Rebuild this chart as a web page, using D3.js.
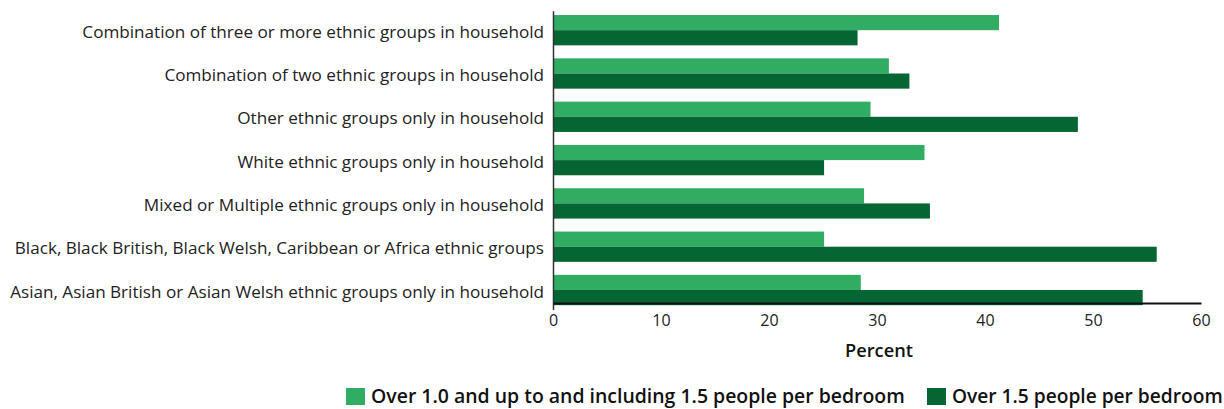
<!DOCTYPE html>
<html><head><meta charset="utf-8">
<script src="https://cdn.jsdelivr.net/npm/d3@7"></script>
<style>body{margin:0;background:#fff}svg{display:block}</style>
</head><body>
<svg id="c" width="1224" height="409"></svg>
<script>
const categories = [
  "Combination of three or more ethnic groups in household",
  "Combination of two ethnic groups in household",
  "Other ethnic groups only in household",
  "White ethnic groups only in household",
  "Mixed or Multiple ethnic groups only in household",
  "Black, Black British, Black Welsh, Caribbean or Africa ethnic groups",
  "Asian, Asian British or Asian Welsh ethnic groups only in household"
];
const seriesNames = ["Over 1.0 and up to and including 1.5 people per bedroom", "Over 1.5 people per bedroom"];
const over10to15 = [41.3, 31.1, 29.4, 34.4, 28.8, 25.1, 28.5];
const over15 = [28.2, 33.0, 48.6, 25.1, 34.9, 55.9, 54.6];
const xTicks = [0, 10, 20, 30, 40, 50, 60];
const colors = ["#31ac63", "#056634"];

const svg = d3.select("#c");
const font = "'Open Sans', sans-serif";
const x = d3.scaleLinear().domain([0, 60]).range([553, 1201]);
const y = d3.scaleBand().domain(categories).range([10.7, 309.5]).paddingInner(0.3).paddingOuter(0.1);
const yi = d3.scaleBand().domain([0, 1]).range([0, y.bandwidth()]);

function fitSize(sel, refNode, targetW, base) {
  const w = refNode.getComputedTextLength();
  const fs = base * targetW / w;
  sel.attr("font-size", fs);
  return fs;
}

const series = [over10to15, over15];
series.forEach((vals, si) => {
  svg.append("g").selectAll("rect").data(vals).join("rect")
    .attr("x", x(0))
    .attr("y", (d, i) => y(categories[i]) + yi(si))
    .attr("width", d => x(d) - x(0))
    .attr("height", yi.bandwidth())
    .attr("fill", colors[si]);
});

// y axis
const yAxis = svg.append("g").attr("transform", `translate(${x(0)},0)`)
  .call(d3.axisLeft(y).tickSize(0).tickPadding(9));
yAxis.select(".domain").attr("stroke", "#333").attr("stroke-width", 1.5);
const yLabels = yAxis.selectAll("text").attr("font-family", font).attr("font-size", 15).attr("fill", "#222")
  .attr("dy", "0.45em");
fitSize(yLabels, yLabels.nodes()[6], 534, 15);

// x axis
const xAxis = svg.append("g").attr("transform", `translate(0,303)`)
  .call(d3.axisBottom(x).tickValues(xTicks).tickSize(0).tickPadding(12));
xAxis.select(".domain").attr("stroke", "#111").attr("stroke-width", 2);
xAxis.selectAll("text").attr("font-family", font).attr("font-size", 16).attr("fill", "#222");

const pt = svg.append("text").attr("x", (x(0) + x(60)) / 2 + 2).attr("y", 357)
  .attr("text-anchor", "middle").attr("font-family", font).attr("font-size", 16)
  .attr("font-weight", 600).attr("fill", "#111").text("Percent");
fitSize(pt, pt.node(), 68, 16);

// legend
const legendX = [346, 927];
const legendW = [534, 271];
seriesNames.forEach((name, i) => {
  const g = svg.append("g").attr("transform", `translate(${legendX[i]},388)`);
  g.append("rect").attr("width", 19).attr("height", 17).attr("fill", colors[i]);
  const t = g.append("text").attr("x", 25).attr("y", 14.5).attr("font-family", font).attr("font-size", 17)
    .attr("font-weight", 600).attr("fill", "#111").text(name);
  fitSize(t, t.node(), legendW[i], 17);
});
</script>
</body></html>
